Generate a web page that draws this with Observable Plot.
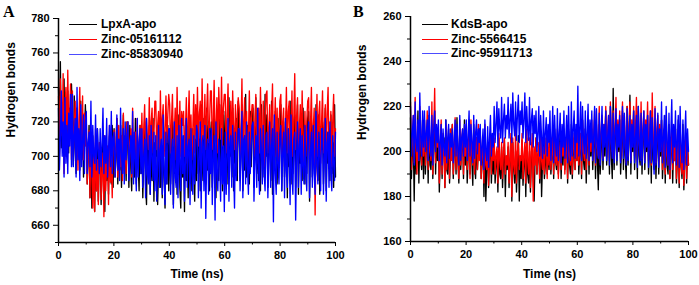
<!DOCTYPE html>
<html><head><meta charset="utf-8">
<script src="https://cdn.jsdelivr.net/npm/d3@7"></script>
<script src="https://cdn.jsdelivr.net/npm/@observablehq/plot@0.6"></script>
<style>
body{margin:0;background:#fff;font-family:"Liberation Sans",Arial,sans-serif}
#wrap{position:relative;width:699px;height:285px;overflow:hidden}
.panel{position:absolute;top:0;width:350px;height:285px}
.letter{position:absolute;font-family:"Liberation Serif","Times New Roman",serif;font-weight:bold;font-size:16px;line-height:1}
.legend{position:absolute;font-weight:bold;font-size:12px;line-height:1}
.legend .row{position:absolute;left:0;white-space:nowrap;height:12px}
.legend .sw{position:absolute;left:0;top:6px;height:1px}
.legend .lab{position:absolute;top:0}
</style>
</head><body>
<div id="wrap"></div>
<script>
// ---------- Panel A data (LpxA), 300 samples over 0-100 ns, 15 per 5 ns ----------
const namesA = ["LpxA-apo", "Zinc-05161112", "Zinc-85830940"];
const blackA = [
740,712,755,705,730,718,745,700,725,710,738,702,728,715,742,
720,695,735,705,690,728,700,715,692,732,698,724,688,710,730,
712,684,700,718,676,705,670,712,690,668,708,680,716,674,700,
706,672,694,715,680,668,710,686,700,678,712,690,684,718,682,
716,688,700,722,684,710,692,718,682,704,724,690,712,686,720,
708,682,718,694,680,714,700,688,722,684,710,696,680,718,690,
712,676,700,720,684,672,710,690,718,678,704,686,722,674,708,
700,716,672,694,710,682,720,676,706,690,670,714,684,718,680,
714,684,700,722,672,708,690,716,678,704,724,682,670,712,688,
706,668,718,686,700,676,722,690,712,680,716,694,674,710,686,
726,690,710,680,730,698,686,722,704,684,728,692,718,680,712,
720,682,706,732,690,676,718,700,686,730,694,712,680,724,688,
726,690,710,684,734,700,716,688,728,680,714,696,722,686,732,
722,686,704,730,680,712,692,736,688,718,700,684,726,694,720,
728,682,712,734,690,706,686,724,680,730,698,716,688,736,700,
724,682,708,718,686,732,678,714,700,726,690,684,722,696,716,
730,680,712,720,688,704,726,676,716,694,732,684,710,690,718,
724,682,706,730,678,714,696,720,686,728,700,684,716,690,722,
726,674,710,722,688,700,718,682,730,694,686,724,678,712,704,
720,684,706,728,680,714,696,716,686,724,690,708,682,730,688];
const redA = [
735,700,745,718,712,748,690,728,740,705,750,715,722,742,698,
738,700,715,732,696,728,692,720,740,700,712,735,698,725,706,
722,684,700,715,676,710,690,670,705,668,716,680,698,672,708,
708,675,690,702,665,712,680,695,706,672,718,685,700,676,710,
715,690,706,722,688,718,700,694,712,686,725,692,708,690,720,
720,695,708,716,688,728,700,712,714,692,722,696,706,718,700,
725,700,716,730,696,722,710,704,734,698,720,728,702,712,732,
732,704,718,726,698,738,706,722,730,700,714,735,708,724,736,
730,702,720,736,706,714,728,698,740,712,704,732,700,726,718,
726,700,714,734,696,720,738,704,724,698,716,736,702,730,710,
740,706,724,732,700,745,712,710,736,704,726,742,708,718,738,
738,704,720,744,708,716,734,702,740,722,710,746,706,728,736,
736,702,722,742,706,712,732,700,738,716,704,730,698,724,734,
728,696,714,745,702,720,734,700,726,694,712,738,704,722,730,
730,700,718,736,696,712,728,702,740,716,698,732,694,722,736,
738,702,716,730,698,724,742,704,712,734,700,728,696,718,732,
736,700,720,728,694,714,740,702,726,732,698,716,738,700,722,
748,704,722,734,698,716,730,702,738,712,696,726,700,720,732,
734,698,718,740,702,716,728,666,712,736,700,724,732,696,720,
738,702,716,730,698,726,740,700,714,726,694,720,736,700,716];
const blueA = [
728,692,710,738,700,720,688,734,696,718,690,725,706,736,694,
736,694,712,722,688,740,698,716,686,730,694,708,724,690,720,
726,690,708,714,694,732,688,718,700,696,724,692,716,704,690,
716,694,706,728,690,712,696,722,688,704,718,694,726,690,710,
714,688,702,724,692,710,686,728,700,690,716,684,720,698,712,
720,686,704,712,690,726,684,714,698,680,722,688,708,716,690,
716,682,700,710,676,722,690,684,712,678,718,700,686,714,680,
712,674,696,718,682,704,710,678,724,690,672,714,684,706,716,
716,678,700,710,670,720,688,682,712,676,718,696,680,722,690,
712,674,698,722,682,706,710,672,716,690,678,712,684,700,718,
714,676,700,720,670,708,712,680,718,664,704,710,678,716,690,
716,672,702,712,663,720,690,680,710,698,674,716,684,706,668,
714,678,700,722,674,708,712,682,718,692,670,714,686,704,716,
716,680,702,726,676,710,712,684,720,694,678,714,690,706,718,
720,674,698,712,682,728,694,678,716,704,684,718,690,680,712,
714,676,700,720,682,706,716,662,724,690,678,714,696,684,712,
718,680,702,714,676,722,692,682,716,704,672,724,688,678,710,
714,663,700,720,682,706,716,678,712,694,684,718,690,680,714,
720,676,702,714,682,718,690,678,726,696,684,714,700,680,716,
716,678,700,722,674,708,714,682,720,690,680,712,696,686,714];

// ---------- Panel B data (KdsB) ----------
const namesB = ["KdsB-apo", "Zinc-5566415", "Zinc-95911713"];
const blackB = [
215,188,200,205,178,212,190,196,218,186,208,198,192,214,188,
214,190,202,210,186,216,194,192,212,188,204,218,190,208,196,
208,182,198,212,188,204,206,184,214,192,190,210,186,200,206,
212,188,200,206,190,215,196,186,210,192,202,208,188,214,194,
210,186,198,214,190,208,196,185,212,194,188,206,192,200,210,
210,188,196,204,180,208,178,192,202,184,198,206,186,200,190,
204,186,194,200,182,206,190,188,202,184,196,205,180,198,192,
202,184,196,206,178,204,192,186,200,182,194,207,178,198,188,
205,185,194,202,180,206,190,186,200,182,196,204,188,178,198,
206,190,198,202,186,208,180,196,204,188,194,206,190,200,192,
208,190,198,204,188,210,196,192,206,190,200,208,188,202,194,
210,192,200,206,186,209,194,190,212,188,198,206,192,204,196,
212,190,200,208,188,214,196,192,210,186,202,212,190,206,198,
210,192,202,214,188,208,196,183,212,190,200,215,192,206,198,
218,194,204,212,190,220,198,188,228,192,206,216,194,210,200,
214,190,202,218,192,212,198,188,220,194,206,225,190,210,200,
218,192,204,214,188,220,198,194,216,190,206,212,192,208,200,
216,190,200,212,186,218,196,192,214,188,204,210,190,206,198,
214,188,198,210,186,216,194,190,212,188,200,208,186,204,196,
210,186,196,214,184,208,194,188,212,183,198,206,186,202,194];
const redB = [
222,192,206,216,195,224,200,190,212,196,220,204,194,214,198,
214,194,204,218,192,212,200,196,222,190,208,228,195,210,202,
210,186,198,214,190,208,200,184,212,192,204,206,188,210,196,
212,190,200,215,192,208,198,188,214,194,204,210,190,206,198,
212,192,200,208,188,214,198,194,210,190,204,206,192,212,196,
210,188,198,206,186,212,194,192,204,185,200,208,190,202,196,
206,190,198,202,186,208,196,192,204,188,200,206,190,198,194,
204,186,196,208,180,206,194,190,210,186,200,204,192,198,196,
208,188,198,204,186,210,196,190,206,184,200,208,178,202,194,
206,190,198,204,188,208,196,192,202,190,200,206,188,204,194,
204,192,198,208,190,206,196,194,210,188,200,204,192,206,198,
208,190,200,206,188,210,198,194,204,190,202,208,192,206,196,
212,194,202,208,190,214,200,196,210,192,204,212,194,208,200,
214,196,206,218,194,212,202,198,220,195,208,216,197,212,204,
220,198,208,216,196,222,204,200,218,197,210,224,199,214,206,
218,196,208,222,198,216,204,195,220,198,210,222,196,214,204,
220,198,210,224,196,218,204,200,222,197,210,218,196,214,206,
222,196,208,218,194,226,204,198,220,195,210,216,194,212,202,
214,192,202,210,190,212,198,194,208,188,200,212,192,206,196,
210,188,198,206,186,212,194,190,204,185,198,208,188,202,194];
const blueB = [
220,198,208,216,194,222,204,200,214,196,226,206,198,218,202,
218,200,208,214,196,220,206,198,216,194,210,218,200,212,204,
214,196,204,212,194,210,202,198,214,195,206,212,197,208,202,
210,195,204,214,198,212,200,194,216,196,206,210,198,212,202,
214,196,206,218,198,212,204,195,216,197,208,214,199,210,204,
212,194,202,210,192,214,200,196,211,193,206,216,198,208,202,
220,204,212,222,202,219,210,206,224,204,214,221,206,216,210,
224,206,214,221,204,226,212,207,222,205,216,225,204,218,212,
222,206,214,226,204,220,210,205,224,203,214,219,202,216,208,
218,200,208,220,198,216,206,197,218,199,208,215,198,212,204,
218,196,206,220,195,216,204,198,219,196,208,217,195,212,202,
218,197,206,216,195,220,204,196,222,198,210,218,197,212,204,
229,198,210,222,196,220,206,199,218,197,208,221,196,214,204,
218,196,206,220,195,219,204,197,217,194,208,220,196,212,202,
218,196,206,216,194,220,204,197,217,195,208,219,196,212,202,
216,195,206,220,197,217,202,194,219,196,208,216,195,212,202,
218,195,206,216,193,220,204,196,217,194,208,218,195,212,202,
216,193,204,218,195,215,202,190,219,194,206,217,193,210,200,
222,195,206,216,193,220,204,194,217,192,208,223,195,212,202,
218,194,204,216,193,220,202,195,214,192,206,218,194,210,200];

const colors = ["#000000", "#ff0000", "#0000ff"];
const xTicks = [0, 20, 40, 60, 80, 100];
const xMinor = [10, 30, 50, 70, 90];
const yTicksA = [660, 680, 700, 720, 740, 760, 780];
const yMinorA = [650, 670, 690, 710, 730, 750, 770];
const yTicksB = [160, 180, 200, 220, 240, 260];
const yMinorB = [170, 190, 210, 230, 250];

function toRows(vals) {
  const n = vals.length;
  return vals.map((v, i) => ({t: i * 100 / (n - 1), v}));
}

function panel(series, yDomain, yTicks, yMinor, m, labDx, labDyY, labDy) {
  return Plot.plot({
    width: 350, height: 285,
    marginLeft: m[0], marginRight: m[1], marginTop: m[2], marginBottom: m[3],
    x: {domain: [0, 100]},
    y: {domain: yDomain},
    style: {fontFamily: '"Liberation Sans", Arial, sans-serif', fontWeight: "bold", fontSize: "11px", color: "#000", background: "transparent", overflow: "visible"},
    marks: [
      ...series.map((s, k) => Plot.line(toRows(s), {x: "t", y: "v", stroke: colors[k], strokeWidth: 1.35})),
      Plot.axisX({ticks: xTicks, tickSize: 4, tickPadding: 5, label: null, fontSize: 11, fontWeight: "bold"}),
      Plot.axisX({ticks: xMinor, tickSize: 2.5, tickFormat: () => "", label: null}),
      Plot.axisY({ticks: yTicks, tickSize: 5, tickPadding: 4, label: null, fontSize: 11, fontWeight: "bold"}),
      Plot.axisY({ticks: yMinor, tickSize: 3, tickFormat: () => "", label: null}),
      Plot.ruleX([0], {stroke: "#000", strokeWidth: 1.5}),
      Plot.ruleY([yDomain[0]], {stroke: "#000", strokeWidth: 1.5}),
      Plot.text(["Hydrogen bonds"], {frameAnchor: "left", rotate: -90, dx: labDx, dy: labDyY, fontSize: 12, fontWeight: "bold", fill: "#000"}),
      Plot.text(["Time (ns)"], {frameAnchor: "bottom", dy: labDy, fontSize: 12, fontWeight: "bold", fill: "#000"})
    ]
  });
}

const wrap = document.getElementById("wrap");

function addPanel(left, svg, letter, letterPos, names, legPos) {
  const div = document.createElement("div");
  div.className = "panel";
  div.style.left = left + "px";
  div.appendChild(svg);
  const L = document.createElement("div");
  L.className = "letter";
  L.textContent = letter;
  L.style.left = letterPos[0] + "px";
  L.style.top = letterPos[1] + "px";
  div.appendChild(L);
  const leg = document.createElement("div");
  leg.className = "legend";
  leg.style.left = legPos[0] + "px";
  leg.style.top = legPos[1] + "px";
  names.forEach((nm, k) => {
    const row = document.createElement("div");
    row.className = "row";
    row.style.top = (k * legPos[2]) + "px";
    const sw = document.createElement("div");
    sw.className = "sw";
    sw.style.width = legPos[3] + "px";
    sw.style.background = colors[k];
    if (k === 2) sw.style.opacity = "0.7";
    const lab = document.createElement("div");
    lab.className = "lab";
    lab.style.left = legPos[4] + "px";
    lab.textContent = nm;
    row.appendChild(sw); row.appendChild(lab);
    leg.appendChild(row);
  });
  div.appendChild(leg);
  wrap.appendChild(div);
}

const svgA = panel([blackA, redA, blueA], [650, 780], yTicksA, yMinorA, [58, 15, 18, 43], -47, 7, 35);
const svgB = panel([blackB, redB, blueB], [160, 260], yTicksB, yMinorB, [61, 11, 16, 44], -48, 11, 36);
addPanel(0, svgA, "A", [3, 4], namesA, [69, 18, 15, 28, 32]);
addPanel(349, svgB, "B", [4, 4], namesB, [73, 18, 14.5, 26, 29]);
</script>
</body></html>
